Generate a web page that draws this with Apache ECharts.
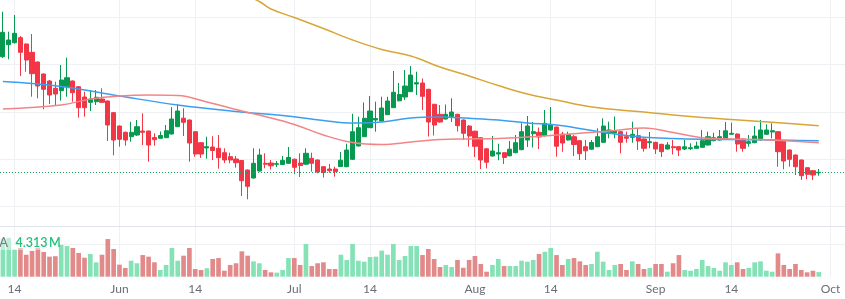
<!DOCTYPE html>
<html>
<head>
<meta charset="utf-8">
<script src="https://cdn.jsdelivr.net/npm/echarts@6/dist/echarts.min.js"></script>
<style>
  html, body { margin: 0; padding: 0; background: #fff; }
  #chart { width: 845px; height: 299px; }
</style>
</head>
<body>
<div id="chart"></div>
<script>
// daily candles, May 12 -> Sep 29 (axis runs on to Oct 3)
var dayCount = 145;
var monthNames = ['Jan', 'Feb', 'Mar', 'Apr', 'May', 'Jun', 'Jul', 'Aug', 'Sep', 'Oct', 'Nov', 'Dec'];
var tickDays = [1, 14];

var opens = [
  528.3, 540.3, 542.3, 547.3, 541, 532.7, 523, 511, 504, 496.7,
  494.3, 498.3, 504, 498.3, 488, 482.7, 483.3, 486, 484, 472.3,
  459, 452.7, 448.3, 450, 454, 454, 447.5, 446.7, 447.3, 451,
  458.3, 466.8, 465, 453.3, 442.3, 437, 438, 436.7, 432.3, 428.3,
  426, 424.5, 415, 407, 414, 421.7, 422, 420.7, 420.5, 421.7,
  425.8, 422, 420.8, 426.7, 425, 418.3, 416, 416, 418.5, 418.3,
  425.7, 439, 448.3, 457.3, 465, 464, 470.3, 477.3, 484.2, 488,
  493.3, 501, 502, 495.7, 480.7, 470.7, 466, 468.3, 470.7, 465,
  459, 453.8, 447.3, 436.2, 429, 431, 432.3, 429.2, 432.3, 435.3,
  445, 451.3, 452.7, 449.5, 455, 458, 451, 445, 448.3, 444.3,
  438.3, 435.8, 438.3, 442.7, 451.7, 452, 453.3, 448.3, 447.7, 449.3,
  446, 442.3, 442.7, 440.7, 436, 438.3, 438.3, 436, 436.3, 436.7,
  437.7, 440, 444.3, 445, 446, 450.7, 451, 446, 441.7, 442.3,
  445, 450.7, 453, 453.3, 444, 435, 430, 425, 417.3, 414.3,
  412.2
];
var closes = [
  552.7, 545, 551.7, 532.7, 525, 511.3, 499, 495.7, 490, 491,
  505, 507.3, 492.3, 477.3, 477.3, 486, 487.7, 482.7, 460, 445,
  445.7, 445, 452.7, 458.3, 452.7, 440, 445.3, 449.5, 454.3, 466,
  474, 462.7, 442, 431, 431, 438.3, 434.5, 427.3, 425, 425,
  422.3, 404.3, 398.7, 421.7, 430, 420.7, 419.2, 421.3, 424.7, 427.5,
  417.7, 419.5, 431.7, 421.7, 413, 412.5, 414.3, 413.3, 424.8, 435,
  453.3, 457.3, 466.7, 474, 466.5, 477, 484, 492.7, 490.5, 499,
  510, 502.3, 488.7, 463, 460, 463, 470.7, 473, 459.3, 451.7,
  449, 438.7, 425, 422.8, 434, 432.3, 427.5, 435.8, 442.3, 453.3,
  459, 453.3, 448, 461.7, 460.3, 438.8, 442, 450.7, 440.5, 431.3,
  434.2, 442.5, 448.3, 459, 455, 454, 442.7, 446.7, 450.7, 444,
  436.7, 443.3, 436, 433.3, 440, 437.3, 435, 438.2, 437.3, 439,
  444.3, 448.3, 447.3, 448.3, 454.2, 451.7, 441, 436.7, 443.3, 449,
  455, 455, 454.3, 433.3, 424, 425.7, 418.3, 409.3, 410.7, 410,
  412.7
];
var lows = [
  527, 525.7, 541.5, 509, 513.3, 488.3, 486.7, 475.7, 481, 480,
  484.3, 488.3, 483.3, 467.3, 468.3, 474, 480, 482, 444, 429.7,
  438.3, 439.3, 443.3, 449, 440, 423.3, 439.3, 446.5, 447, 450.5,
  458, 449, 423.3, 428.3, 427, 426.3, 425, 416.3, 422, 421.7,
  417.3, 389, 385.7, 406.5, 413.5, 416.7, 415.5, 418, 420, 421.2,
  411, 408, 420.3, 413.3, 411.7, 407.5, 412.3, 408.3, 418, 417.8,
  425, 438.5, 448, 457, 453.3, 463.5, 470, 477, 483.7, 485,
  493, 490, 475, 448.5, 449.5, 462.5, 465.5, 463, 453.5, 445,
  438.3, 428, 416, 416.7, 428.5, 424.7, 421, 428.7, 431.8, 434.8,
  438, 437.5, 436, 448.5, 454.5, 428.3, 433.3, 444.5, 429, 425,
  425, 435.3, 437.8, 442.2, 446.7, 446.7, 431.7, 442.3, 442.3, 435,
  433.3, 436.7, 431, 428, 435.5, 430.5, 429, 435, 435, 436.2,
  437.2, 439.5, 443.8, 444.5, 445.5, 450.2, 433.3, 433.3, 438.3, 441.8,
  444.5, 450.2, 446.7, 418.3, 415.7, 418.3, 410, 405, 405.7, 405,
  409.3
];
var highs = [
  573.3, 553.3, 570, 549, 541.5, 551, 523.5, 511.5, 505, 503.3,
  520, 527.3, 504.5, 499, 493.3, 495, 495, 496.7, 484.5, 473,
  459.5, 453.5, 463.3, 465, 471.7, 454.3, 451.7, 453.5, 460, 478,
  480.7, 476.7, 465.5, 454, 443, 448.3, 448.7, 450, 436.7, 432.3,
  429, 425, 415.5, 436.7, 436.3, 431.7, 425, 424, 429, 438,
  426.3, 431.7, 436.7, 432.3, 425.5, 419, 421, 418.3, 433, 441.3,
  471.2, 468.3, 482.5, 489, 483.3, 488.3, 488.3, 514, 502, 515,
  519, 513.3, 506.5, 496.2, 481.2, 480, 480.5, 486.7, 471.2, 465.5,
  460, 454.3, 447.8, 436.7, 449, 441.3, 432.8, 444, 450, 461.7,
  469, 463, 457.5, 475, 478, 458.5, 453.3, 453.3, 450, 444.8,
  445, 445, 456.7, 466.7, 463.3, 468.5, 453.8, 453.3, 463.3, 456.7,
  446.5, 453, 443.2, 441.2, 443, 445, 438.8, 445, 441.7, 443.3,
  455, 453.3, 452.3, 455, 463, 462.3, 451.5, 446.5, 450, 459,
  465, 460.7, 461.7, 453.8, 444.5, 435.5, 430.5, 425.5, 417.8, 414.8,
  416
];
// volume, millions
var volumes = [
  35.6, 36.5, 25.5, 26.9, 20.6, 24.2, 27.2, 23.2, 18.8, 19.2,
  29.8, 28.8, 26.9, 22.3, 17.8, 21.3, 13.5, 20.6, 35.3, 26,
  11.3, 8.2, 15, 12.6, 20.3, 18.8, 13.5, 6.3, 11, 26.9,
  15, 19.7, 26.9, 7.2, 6.3, 7.9, 16.6, 17.5, 5.6, 11,
  12.6, 23.8, 19.7, 14.4, 12.6, 6.3, 4.1, 3.8, 6.3, 17.5,
  17.5, 11, 30.7, 10, 12.6, 13.5, 7.2, 7.2, 20.6, 15.7,
  30.7, 15, 14.1, 18.5, 18.8, 24.4, 20.6, 30.7, 15.7, 19.4,
  28.8, 28.8, 20.3, 26, 16.6, 9.1, 11, 9.1, 15.7, 8.4,
  15.7, 19.4, 11.9, 4.7, 11, 16.6, 10, 10, 10, 15,
  14.1, 15.7, 21.3, 23.4, 26.9, 20.3, 11, 16.6, 17.5, 14.4,
  11, 11.9, 23.4, 14.1, 6.3, 11, 11.9, 6.3, 14.4, 11.9,
  7.2, 8.2, 11.9, 11.9, 4.7, 12.6, 20.3, 6.3, 5.6, 7.2,
  15.7, 10, 8.2, 5.6, 13.5, 11, 13.5, 7.2, 8.2, 13.5,
  14.4, 5.6, 4.7, 21.9, 11, 7.2, 11.9, 6.3, 4.1, 5.6,
  4.313
];

// moving averages, read at a few dates
var maBlue = [
  ['05-12', 503.5], ['05-22', 498.5], ['06-01', 489], ['06-11', 480], ['06-21', 473.5],
  ['06-29', 469.5], ['07-06', 464.5], ['07-11', 462], ['07-16', 463], ['07-21', 467],
  ['07-26', 468], ['07-31', 466.7], ['08-05', 465], ['08-10', 462], ['08-15', 460],
  ['08-20', 455.5], ['08-25', 451], ['08-30', 447.7], ['09-04', 446.4], ['09-09', 445.7],
  ['09-14', 445.5], ['09-19', 445.2], ['09-24', 444.7], ['09-29', 444.3]
];
var maRed = [
  ['05-12', 476], ['05-22', 480], ['05-27', 486], ['06-01', 489], ['06-06', 490],
  ['06-11', 489.5], ['06-16', 483], ['06-21', 475.5], ['06-26', 468.5], ['07-01', 460.5],
  ['07-06', 450], ['07-11', 442.5], ['07-16', 440.5], ['07-21', 443], ['07-26', 445.5],
  ['07-31', 446], ['08-05', 446.5], ['08-10', 448], ['08-15', 450], ['08-20', 452.2],
  ['08-25', 454.5], ['08-30', 457], ['09-04', 452.5], ['09-09', 447.2], ['09-14', 446],
  ['09-19', 445.5], ['09-24', 444], ['09-29', 442.3]
];
var maGold = [
  ['06-21', 594], ['06-25', 583.5], ['06-27', 576], ['07-01', 567.5], ['07-06', 556.5],
  ['07-11', 545], ['07-16', 535.5], ['07-21', 529], ['07-26', 518], ['07-31', 509],
  ['08-05', 499.5], ['08-10', 491], ['08-15', 485], ['08-20', 479], ['08-25', 475.5],
  ['08-30', 473], ['09-04', 470], ['09-09', 467.5], ['09-14', 465.5], ['09-19', 463.5],
  ['09-24', 461.5], ['09-29', 459.3]
];

var upColor = '#089950', downColor = '#f23645';
var volUp = '#84e2b6', volDown = '#e28a8a';
var gridColor = '#eff0f3';

var dates = [];
for (var i = 0; i < dayCount; i++) {
  var d = new Date(Date.UTC(2024, 4, 12 + i));
  var mm = ('0' + (d.getUTCMonth() + 1)).slice(-2);
  var dd = ('0' + d.getUTCDate()).slice(-2);
  dates.push(mm + '-' + dd);
}

function isTickDay(value) {
  return tickDays.indexOf(+value.slice(3)) >= 0;
}
function tickLabel(value) {
  var m = +value.slice(0, 2), d = +value.slice(3);
  return d === 1 ? monthNames[m - 1] : String(d);
}

var candles = opens.map(function (o, i) {
  return [o, closes[i], lows[i], highs[i]];
});
var volData = volumes.map(function (v, i) {
  return { value: v, itemStyle: { color: closes[i] >= opens[i] ? volUp : volDown } };
});
var lastClose = closes[closes.length - 1];
var lastVol = volumes[volumes.length - 1];

var chart = echarts.init(document.getElementById('chart'));
var option = {
  animation: false,
  backgroundColor: '#ffffff',
  grid: [
    { left: 0, right: 0, top: 0, bottom: 45.1 },
    { left: 0, right: 0, top: 227, bottom: 22.3 }
  ],
  xAxis: [
    {
      type: 'category', gridIndex: 0, data: dates, boundaryGap: true,
      axisLine: { show: false }, axisTick: { show: false }, axisLabel: { show: false },
      splitLine: {
        show: true, alignWithLabel: true,
        interval: function (i, v) { return isTickDay(v); },
        lineStyle: { color: gridColor, width: 1 }
      }
    },
    {
      type: 'category', gridIndex: 1, data: dates, boundaryGap: true,
      axisLine: { show: false }, axisTick: { show: false },
      axisLabel: {
        show: true,
        interval: function (i, v) { return isTickDay(v); },
        formatter: tickLabel,
        color: '#6a6d78', fontSize: 12, fontFamily: 'Lato', margin: 6
      },
      splitLine: {
        show: true, alignWithLabel: true,
        interval: function (i, v) { return isTickDay(v); },
        lineStyle: { color: gridColor, width: 1 }
      }
    }
  ],
  yAxis: [
    {
      type: 'value', gridIndex: 0, min: 331.1, max: 585, interval: 47.3,
      axisLine: { show: false }, axisTick: { show: false }, axisLabel: { show: false },
      splitLine: { show: true, showMinLine: false, showMaxLine: false, lineStyle: { color: gridColor } }
    },
    {
      type: 'value', gridIndex: 1, min: 0, max: 46.6, interval: 30,
      axisLine: { show: false }, axisTick: { show: false }, axisLabel: { show: false },
      splitLine: { show: true, showMinLine: false, showMaxLine: false, lineStyle: { color: gridColor } }
    }
  ],
  series: [
    {
      name: 'Volume', type: 'bar', xAxisIndex: 1, yAxisIndex: 1,
      data: volData, barWidth: '80%'
    },
    {
      name: 'Price', type: 'candlestick', xAxisIndex: 0, yAxisIndex: 0,
      data: candles, barWidth: '80%',
      itemStyle: {
        color: upColor, color0: downColor,
        borderColor: upColor, borderColor0: downColor, borderWidth: 1
      },
      markLine: {
        silent: true, symbol: ['none', 'none'],
        label: { show: false },
        lineStyle: { color: '#1f9d60', type: [1, 2], width: 1 },
        data: [{ yAxis: lastClose }]
      }
    },
    {
      name: 'MA slow', type: 'line', xAxisIndex: 0, yAxisIndex: 0,
      data: maGold, showSymbol: false, smooth: 0.4,
      lineStyle: { color: '#d7a636', width: 1.5 }
    },
    {
      name: 'MA mid', type: 'line', xAxisIndex: 0, yAxisIndex: 0,
      data: maBlue, showSymbol: false, smooth: 0.4,
      lineStyle: { color: '#3a9ff0', width: 1.5 }
    },
    {
      name: 'MA fast', type: 'line', xAxisIndex: 0, yAxisIndex: 0,
      data: maRed, showSymbol: false, smooth: 0.4,
      lineStyle: { color: '#f28585', width: 1.5 }
    }
  ],
  graphic: [
    {
      type: 'line', z: 50, silent: true,
      shape: { x1: 0, y1: 226.5, x2: 845, y2: 226.5 },
      style: { stroke: '#e0e3eb', lineWidth: 1 }
    },
    {
      type: 'rect', z: 60, silent: true,
      shape: { x: 0, y: 236, width: 57, height: 14 },
      style: { fill: 'rgba(255,255,255,0.45)' }
    },
    {
      type: 'text', z: 70, silent: true, x: 8, y: 243,
      style: {
        text: 'MA', fill: '#787b86', font: '13px Lato',
        align: 'right', verticalAlign: 'middle'
      }
    },
    {
      type: 'text', z: 70, silent: true, x: 15.5, y: 243,
      style: {
        text: lastVol.toFixed(3) + '\u2009M', fill: '#22c27a', font: '600 12.5px Lato',
        align: 'left', verticalAlign: 'middle'
      }
    }
  ]
};
chart.setOption(option);
</script>
</body>
</html>
